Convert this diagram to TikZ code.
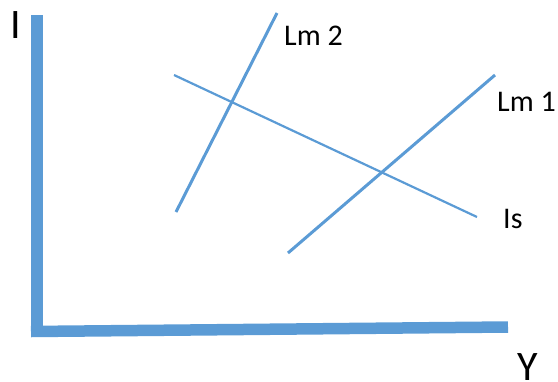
\documentclass[tikz,border=0pt]{standalone}
\usepackage{fontspec}
\setmainfont{Carlito}
\definecolor{axisblue}{HTML}{5B9BD5}
\begin{document}
\begin{tikzpicture}[x=1pt,y=-1pt,
  axisline/.style={draw=axisblue,line width=11.5pt},
  curve/.style={draw=axisblue,line width=3pt},
  thin curve/.style={draw=axisblue,line width=2.2pt},
  lbl/.style={anchor=base west,inner sep=0pt,font=\fontsize{30}{36}\selectfont},
  big/.style={anchor=base west,inner sep=0pt,font=\fontsize{42}{50}\selectfont}]
\useasboundingbox (0,0) rectangle (558,381);
% axes
\coordinate (top) at (37,15);
\coordinate (corner2) at (31,331.5);
\coordinate (right) at (508,327);
\draw[axisline] (top) -- (37,337);
\draw[axisline] (corner2) -- (right);
% lines
\coordinate (lm2a) at (176,212);
\coordinate (lm2b) at (277,13);
\coordinate (lm1a) at (288,253);
\coordinate (lm1b) at (495,75);
\coordinate (isa) at (174,75);
\coordinate (isb) at (477,217);
\draw[curve] (lm2a) -- (lm2b);
\draw[curve] (lm1a) -- (lm1b);
\draw[thin curve] (isa) -- (isb);
% labels
\node[big] (ylab) at (10,38) {I};
\node[big] (xlab) at (517,380) {Y};
\node[lbl] (l2) at (284,45) {Lm 2};
\node[lbl] (l1) at (497,111) {Lm 1};
\node[lbl] (is) at (503,228) {Is};
\end{tikzpicture}
\end{document}
